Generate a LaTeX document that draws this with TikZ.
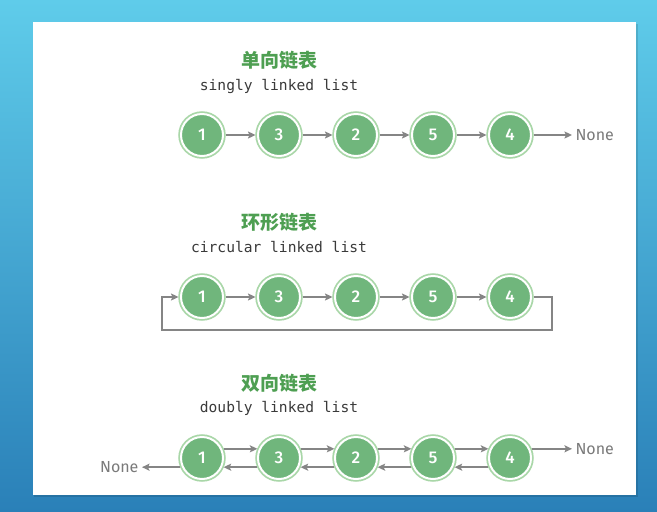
\documentclass[tikz,border=0pt]{standalone}
\usepackage{fontspec}
\setmainfont{Fira Sans}
\setmonofont{DejaVu Sans Mono}
\newfontfamily\cjk{Noto Sans CJK SC}
\newfontfamily\numfont{Fira Sans Medium}
\usetikzlibrary{arrows.meta}
\definecolor{nodegreen}{HTML}{70B67C}
\definecolor{ringgreen}{HTML}{A9D7A8}
\definecolor{titlegreen}{HTML}{4E9F52}
\definecolor{linegray}{HTML}{858585}
\definecolor{textgray}{HTML}{3A3A3A}
\definecolor{nonegray}{HTML}{7A7A7A}
\definecolor{bgtop}{HTML}{5FCCEA}
\definecolor{bgbot}{HTML}{2A80B8}
\tikzset{
  lnode/.style={circle, minimum size=42pt, inner sep=0pt, outer sep=2.5pt,
    fill=nodegreen, draw=white, line width=2pt,
    preaction={draw=ringgreen, line width=5.5pt},
    text=white, font=\numfont\fontsize{17}{17}\selectfont},
  ptr/.style={draw=linegray, line width=1.8pt,
    -{Stealth[length=7.5pt,width=7pt,inset=1.5pt]}},
  cntitle/.style={text=titlegreen, font=\cjk\bfseries\fontsize{19}{19}\selectfont},
  entitle/.style={text=textgray, font=\ttfamily\fontsize{14.6}{15}\selectfont},
  nonetext/.style={text=nonegray, font=\fontsize{16}{16}\selectfont},
}
\begin{document}
\begin{tikzpicture}[x=1pt,y=-1pt]
\useasboundingbox (0,0) rectangle (657,512);
\shade[top color=bgtop, bottom color=bgbot] (0,0) rectangle (657,512);
\fill[black, opacity=0.12] (34,24) rectangle (638,497);
\fill[white] (33,22) rectangle (636,495);

% singly linked list
\node[cntitle] (t1) at (279,60) {单向链表};
\node[entitle] (e1) at (279,86) {singly linked list};
\node[lnode] (a1) at (202,135) {1};
\node[lnode] (a2) at (279,135) {3};
\node[lnode] (a3) at (356,135) {2};
\node[lnode] (a4) at (433,135) {5};
\node[lnode] (a5) at (510,135) {4};
\node[nonetext, anchor=west] (an) at (572,135) {None};
\draw[ptr] (a1) -- (a2);
\draw[ptr] (a2) -- (a3);
\draw[ptr] (a3) -- (a4);
\draw[ptr] (a4) -- (a5);
\draw[ptr] (a5) -- (an);

% circular linked list
\node[cntitle] (t2) at (279,222) {环形链表};
\node[entitle] (e2) at (279,247) {circular linked list};
\node[lnode] (b1) at (202,297) {1};
\node[lnode] (b2) at (279,297) {3};
\node[lnode] (b3) at (356,297) {2};
\node[lnode] (b4) at (433,297) {5};
\node[lnode] (b5) at (510,297) {4};
\draw[ptr] (b1) -- (b2);
\draw[ptr] (b2) -- (b3);
\draw[ptr] (b3) -- (b4);
\draw[ptr] (b4) -- (b5);
\draw[ptr] (b5.east) -- (552,297) -- (552,330) -- (162,330) -- (162,297) -- (b1.west);

% doubly linked list
\node[cntitle] (t3) at (279,383) {双向链表};
\node[entitle] (e3) at (279,408) {doubly linked list};
\node[lnode] (c1) at (202,458) {1};
\node[lnode] (c2) at (279,458) {3};
\node[lnode] (c3) at (356,458) {2};
\node[lnode] (c4) at (433,458) {5};
\node[lnode] (c5) at (510,458) {4};
\node[nonetext, anchor=west] (cr) at (572,449) {None};
\node[nonetext, anchor=east] (cl) at (142,467) {None};
\foreach \p/\q in {c1/c2, c2/c3, c3/c4, c4/c5}{
  \draw[ptr] (\p.23) -- (\q.157);
  \draw[ptr] (\q.203) -- (\p.337);
}
\draw[ptr] (c5.23) -- (c5.23 -| cr.west);
\draw[ptr] (c1.203) -- (c1.203 -| cl.east);
\end{tikzpicture}
\end{document}
